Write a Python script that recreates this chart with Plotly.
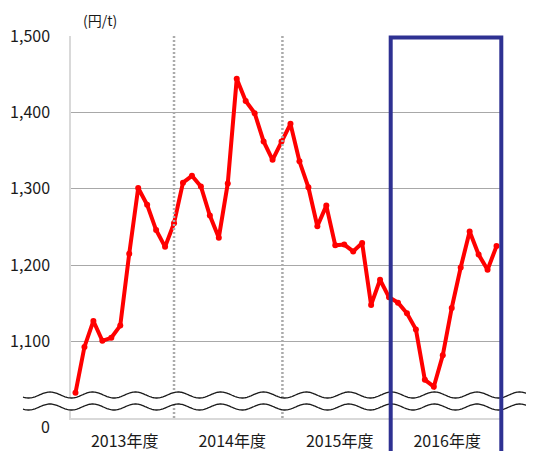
import numpy as np
import plotly.graph_objects as go

# 月次価格 (円/t), 2013年度4月 ～ 2016年度3月
fiscal_years = ["2013年度", "2014年度", "2015年度", "2016年度"]
price_fy2013 = [1033, 1093, 1127, 1101, 1105, 1121, 1215, 1301, 1279, 1246, 1224, 1255]
price_fy2014 = [1308, 1317, 1303, 1265, 1236, 1307, 1444, 1415, 1399, 1362, 1338, 1362]
price_fy2015 = [1385, 1336, 1302, 1251, 1278, 1226, 1227, 1218, 1229, 1148, 1181, 1158]
price_fy2016 = [1151, 1137, 1116, 1050, 1041, 1082, 1144, 1197, 1244, 1214, 1194, 1225]

prices = price_fy2013 + price_fy2014 + price_fy2015 + price_fy2016
months = list(range(len(prices)))
y_ticks = [1100, 1200, 1300, 1400, 1500]
y_ticktext = ["1,100", "1,200", "1,300", "1,400", "1,500"]

# page offset of the plot div (body margin 8px)
OFF = 8
W, H = 534 - OFF, 451 - OFF
L, R, T, B = 71 - OFF, 534 - 501, 36 - OFF, 451 - 418
pw, ph = W - L - R, H - T - B

def px(x):  # page pixel -> paper
    return (x - OFF - L) / pw

def py(y):
    return (H - B - (y - OFF)) / ph

fig = go.Figure()
fig.add_trace(go.Scatter(
    x=months, y=prices, mode="lines+markers",
    line=dict(color="#FF0000", width=4),
    marker=dict(color="#FF0000", size=6),
    hoverinfo="skip", showlegend=False,
))

shapes = []
# 年度区切りの点線
for xv in [11, 23.1]:
    shapes.append(dict(type="line", xref="x", yref="paper", x0=xv, x1=xv, y0=0, y1=1,
                       line=dict(color="#ABABAB", width=2.5, dash="2px,2px"), layer="above"))

# 省略記号（波線）
xs = np.arange(23, 541, 1.0)
period, amp = 42.7, 3.0
def wave(yc):
    return yc - amp * np.cos(2 * np.pi * (xs - 50) / period)
up, lo = wave(395), wave(407)
band = "M " + " L ".join(f"{px(a):.4f},{py(b):.4f}" for a, b in zip(xs, up))
band += " L " + " L ".join(f"{px(a):.4f},{py(b):.4f}" for a, b in zip(xs[::-1], lo[::-1])) + " Z"
shapes.append(dict(type="path", xref="paper", yref="paper", path=band,
                   fillcolor="white", line=dict(width=0), layer="above"))
for wv in (up, lo):
    p = "M " + " L ".join(f"{px(a):.4f},{py(b):.4f}" for a, b in zip(xs, wv))
    shapes.append(dict(type="path", xref="paper", yref="paper", path=p,
                       line=dict(color="#1A1A1A", width=1.3), layer="above"))

# 2016年度の枠
shapes.append(dict(type="rect", xref="paper", yref="paper", x0=px(390.7), x1=px(501.3),
                   y0=py(470), y1=py(37.5),
                   line=dict(color="#2E3192", width=4), layer="above"))

fig.update_layout(
    width=W, height=H,
    margin=dict(l=L, r=R, t=T, b=B, autoexpand=False),
    plot_bgcolor="white", paper_bgcolor="white",
    font=dict(family="Noto Sans CJK JP", color="#1A1A1A", size=15),
    shapes=shapes,
    annotations=[
        dict(text="(円/t)", xref="paper", yref="paper", x=px(100), y=py(20),
             xanchor="center", yanchor="middle", showarrow=False, font=dict(size=14)),
        dict(text="0", xref="paper", yref="paper", x=px(52), y=py(426),
             xanchor="right", yanchor="middle", showarrow=False, font=dict(size=16)),
    ],
)
fig.update_xaxes(
    range=[-0.5, 47.5], showgrid=False, zeroline=False, automargin=False,
    showline=True, linecolor="#D9D9D9", linewidth=1.5,
    tickvals=[5.5, 17.5, 29.5, 41.5], ticktext=fiscal_years,
    ticks="", ticklabelstandoff=8, tickfont=dict(size=16),
)
fig.update_yaxes(
    range=[1000, 1500], zeroline=False, automargin=False,
    showgrid=True, gridcolor="#A8A8A8", gridwidth=1,
    showline=True, linecolor="#D9D9D9", linewidth=1.5,
    tickvals=y_ticks, ticktext=y_ticktext, ticks="",
    ticklabelstandoff=16, tickfont=dict(size=16),
)

fig.write_html("out.html")
